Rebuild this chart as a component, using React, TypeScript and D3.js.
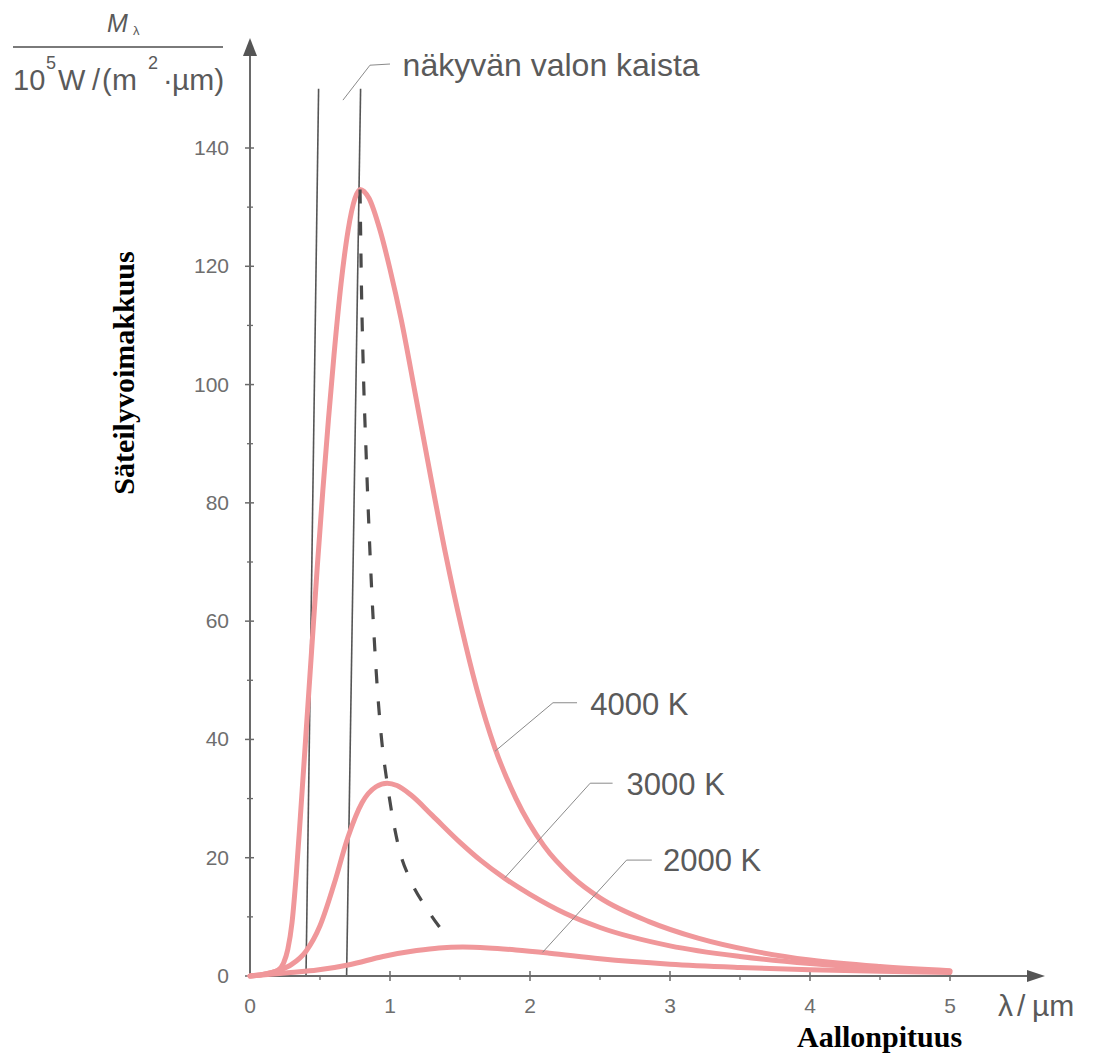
import React from "react";
import * as d3 from "d3";

// ---- data ----
const lambda4000 = [0, 0.1, 0.2, 0.24, 0.27, 0.3, 0.33, 0.36, 0.4, 0.44, 0.48, 0.52, 0.56, 0.6, 0.65, 0.7, 0.75, 0.786, 0.85, 0.93, 1.0, 1.08, 1.18, 1.29, 1.4, 1.51, 1.62, 1.75, 1.9, 2.1, 2.3, 2.5, 2.85, 3.2, 3.6, 4.0, 4.5, 5.0];
const value4000 = [0, 0.3, 1.0, 2.2, 4.5, 9, 17, 27, 41, 55, 69, 82, 94, 105, 117, 126, 131.5, 133, 131.5, 126, 119.5, 111, 98.5, 84.5, 71, 59, 48.5, 38.5, 30, 22, 16.8, 13.2, 9.2, 6.4, 4.2, 2.7, 1.6, 0.9];

const lambda3000 = [0, 0.1, 0.2, 0.3, 0.4, 0.5, 0.6, 0.7, 0.8, 0.9, 0.98, 1.05, 1.15, 1.3, 1.5, 1.65, 1.82, 2.0, 2.25, 2.5, 3.0, 3.5, 4.0, 4.5, 5.0];
const value3000 = [0, 0.3, 0.9, 2.0, 4.2, 8.5, 15.5, 23.5, 29.3, 32, 32.6, 32.2, 30.6, 27.2, 22.6, 19.5, 16.5, 13.8, 10.6, 8.2, 5.1, 3.3, 2.1, 1.3, 0.8];

const lambda2000 = [0, 0.29, 0.48, 0.71, 0.95, 1.19, 1.35, 1.52, 1.7, 1.9, 2.14, 2.5, 3.0, 3.5, 4.0, 4.5, 5.0];
const value2000 = [0, 0.6, 1.0, 1.9, 3.3, 4.3, 4.75, 4.9, 4.75, 4.4, 3.85, 2.9, 2.0, 1.45, 1.05, 0.8, 0.6];

// Wien displacement locus (dashed)
const lambdaPeak = [0.786, 0.795, 0.81, 0.83, 0.86, 0.9, 0.94, 0.98, 1.06, 1.15, 1.26, 1.41];
const valuePeak = [133, 118, 102, 88, 70, 52, 40, 32.6, 22, 16, 11.5, 6.5];

// visible band edges (bottom and top of the drawn lines)
const bandBottom = [0.4, 0.69];
const bandTop = [0.49, 0.79];
const bandTopValue = 150;

const xTicks = [0, 1, 2, 3, 4, 5];
const xMinor = [0.5, 1.5, 2.5, 3.5, 4.5];
const yTicks = [0, 20, 40, 60, 80, 100, 120, 140];
const yMinor = [10, 30, 50, 70, 90, 110, 130];

const curveLabels = ["4000 K", "3000 K", "2000 K"];
// leader: curve point, elbow, end ; text anchor (data coords)
const leaderFrom = [[1.75, 38], [1.82, 16.6], [2.09, 4.0]];
const leaderElbow = [[2.164, 46.2], [2.43, 32.6], [2.69, 19.6]];
const leaderEnd = [[2.336, 46.2], [2.59, 32.6], [2.87, 19.6]];
const labelPos = [[2.43, 44.1], [2.69, 30.6], [2.95, 17.8]];

const bandLabel = "näkyvän valon kaista";
const bandLeader = [[0.664, 148.1], [0.857, 154], [1.0, 154.2]];
const bandLabelPos = [1.09, 152.2];

export default function App() {
  const W = 1095, H = 1054;
  const x = d3.scaleLinear().domain([0, 5]).range([250, 950]);
  const y = d3.scaleLinear().domain([0, 140]).range([976, 148]);

  const line = d3
    .line<[number, number]>()
    .x((d) => x(d[0]))
    .y((d) => y(d[1]))
    .curve(d3.curveMonotoneX);
  const poly = d3.line<number[]>().x((d) => x(d[0])).y((d) => y(d[1]));

  const zip = (a: number[], b: number[]) => a.map((v, i) => [v, b[i]] as [number, number]);
  const series = [zip(lambda4000, value4000), zip(lambda3000, value3000), zip(lambda2000, value2000)];

  const pink = "#f0979a";
  const axisCol = "#6a6a6a";
  const textCol = "#5a5a5a";
  const sans = "'Liberation Sans', Arial, sans-serif";
  const serif = "'Liberation Serif', 'Times New Roman', serif";

  const x0 = x(0), y0 = y(0);
  const yTop = 38, xRight = 1045;

  return (
    <div style={{ position: "absolute", left: 0, top: 0 }}>
      <svg width={W} height={H} style={{ display: "block", background: "#fff" }}>
        {/* visible band lines */}
        {bandBottom.map((b, i) => (
          <line key={"b" + i} x1={x(b)} y1={y(0)} x2={x(bandTop[i])} y2={y(bandTopValue)} stroke="#555" strokeWidth={1.6} />
        ))}

        {/* axes */}
        <line x1={x0} y1={y0} x2={x0} y2={yTop + 16} stroke={axisCol} strokeWidth={2} />
        <polygon points={`${x0},${yTop} ${x0 - 7},${yTop + 18} ${x0 + 7},${yTop + 18}`} fill="#555" />
        <line x1={x0} y1={y0} x2={xRight - 16} y2={y0} stroke={axisCol} strokeWidth={2} />
        <polygon points={`${xRight},${y0} ${xRight - 18},${y0 - 6} ${xRight - 18},${y0 + 6}`} fill="#555" />

        {yTicks.map((t) => (
          <g key={"yt" + t}>
            <line x1={x0 - 5} x2={x0 + 4} y1={y(t)} y2={y(t)} stroke={axisCol} strokeWidth={1.5} />
            <text x={x0 - 21} y={y(t) + 7} textAnchor="end" fontFamily={sans} fontSize={21} fill="#6e6e6e">{t}</text>
          </g>
        ))}
        {yMinor.map((t) => (
          <line key={"ym" + t} x1={x0 - 3} x2={x0 + 3} y1={y(t)} y2={y(t)} stroke={axisCol} strokeWidth={1.3} />
        ))}
        {xTicks.map((t) => (
          <g key={"xt" + t}>
            {t > 0 && <line x1={x(t)} x2={x(t)} y1={y0 - 5} y2={y0 + 5} stroke={axisCol} strokeWidth={1.5} />}
            <text x={x(t)} y={1013} textAnchor="middle" fontFamily={sans} fontSize={21} fill="#6e6e6e">{t}</text>
          </g>
        ))}
        {xMinor.map((t) => (
          <line key={"xm" + t} x1={x(t)} x2={x(t)} y1={y0} y2={y0 + 4} stroke={axisCol} strokeWidth={1.3} />
        ))}

        {/* curves */}
        {series.map((s, i) => (
          <path key={"s" + i} d={line(s) || ""} fill="none" stroke={pink} strokeWidth={5} strokeLinejoin="round" strokeLinecap="round" />
        ))}

        {/* Wien locus */}
        <path d={line(zip(lambdaPeak, valuePeak)) || ""} fill="none" stroke="#4a4a4a" strokeWidth={3.2} strokeDasharray="14,18" />

        {/* curve labels */}
        {curveLabels.map((lab, i) => (
          <g key={"l" + i}>
            <path d={poly([leaderFrom[i], leaderElbow[i], leaderEnd[i]]) || ""} fill="none" stroke="#8a8a8a" strokeWidth={1} />
            <text x={x(labelPos[i][0])} y={y(labelPos[i][1])} fontFamily={sans} fontSize={31} fill={textCol}>{lab}</text>
          </g>
        ))}
        <path d={poly(bandLeader) || ""} fill="none" stroke="#8a8a8a" strokeWidth={1} />
        <text x={x(bandLabelPos[0])} y={y(bandLabelPos[1])} fontFamily={sans} fontSize={32} fill={textCol}>{bandLabel}</text>

        {/* unit label */}
        <text x={107} y={32} fontFamily={sans} fontStyle="italic" fontSize={25} fill={textCol}>M</text>
        <text x={133} y={35} fontFamily={sans} fontSize={13} fill={textCol}>λ</text>
        <line x1={13} x2={223} y1={47} y2={47} stroke="#7a7a7a" strokeWidth={2} />
        <g fontFamily={sans} fill={textCol}>
          <text x={13} y={90} fontSize={29}>10</text>
          <text x={46} y={69} fontSize={18}>5</text>
          <text x={58} y={90} fontSize={29}>W</text>
          <text x={92} y={90} fontSize={29}>/</text>
          <text x={102} y={90} fontSize={29}>(</text>
          <text x={112} y={90} fontSize={30}>m</text>
          <text x={148} y={69} fontSize={18}>2</text>
          <text x={163} y={90} fontSize={29}>·</text>
          <text x={172} y={90} fontSize={30}>µm)</text>
        </g>
        <g fontFamily={sans} fill={textCol} fontSize={30}>
          <text x={998} y={1016}>λ</text>
          <text x={1017} y={1016}>/</text>
          <text x={1032} y={1016}>µm</text>
        </g>

        {/* axis titles */}
        <text transform="translate(134,373) rotate(-90)" textAnchor="middle" fontFamily={serif} fontWeight="bold" fontSize={30} fill="#000">Säteilyvoimakkuus</text>
        <text x={797} y={1047} fontFamily={serif} fontWeight="bold" fontSize={30} fill="#000">Aallonpituus</text>
      </svg>
    </div>
  );
}
